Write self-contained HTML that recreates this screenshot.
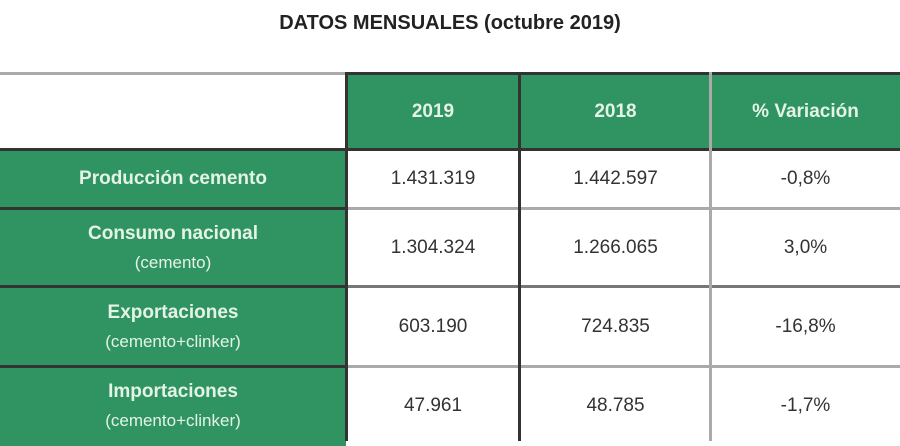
<!DOCTYPE html>
<html><head><meta charset="utf-8"><style>
body{margin:0;width:900px;height:441px;background:#fff;overflow:hidden;font-family:"Liberation Sans",sans-serif;position:relative}
.c{position:absolute;box-sizing:border-box;display:flex;flex-direction:column;align-items:center;justify-content:center;text-align:center;font-size:19px;color:#333}
.g{background:#2f9462;color:#e4f3e6}
.h{font-weight:bold}
.b{font-weight:bold}
.sub{font-size:17px;margin-top:8px;font-weight:normal}
.hl{position:absolute;height:3px;background:#333}
.vl{position:absolute;width:3px;background:#333}
.gl{position:absolute;height:3px;background:#aaa}
.gv{position:absolute;width:3px;background:#aaa}
</style></head><body>
<div class="c h" style="left:0;top:6px;width:900px;height:34px;font-size:20px;color:#222">DATOS MENSUALES (octubre 2019)</div>

<div class="c" style="left:0;top:74px;width:346px;height:76px"></div>
<div class="c g h" style="left:346px;top:74px;width:174px;height:76px">2019</div>
<div class="c g h" style="left:520px;top:74px;width:191px;height:76px">2018</div>
<div class="c g h" style="left:711px;top:74px;width:189px;height:76px">% Variación</div>

<div class="c g b" style="left:0;top:150px;width:346px;height:58px">Producción cemento</div>
<div class="c" style="left:346px;top:150px;width:174px;height:58px">1.431.319</div>
<div class="c" style="left:520px;top:150px;width:191px;height:58px">1.442.597</div>
<div class="c" style="left:711px;top:150px;width:189px;height:58px">-0,8%</div>

<div class="c g b" style="left:0;top:208px;width:346px;height:79px"><div>Consumo nacional</div><div class="sub">(cemento)</div></div>
<div class="c" style="left:346px;top:208px;width:174px;height:79px">1.304.324</div>
<div class="c" style="left:520px;top:208px;width:191px;height:79px">1.266.065</div>
<div class="c" style="left:711px;top:208px;width:189px;height:79px">3,0%</div>

<div class="c g b" style="left:0;top:287px;width:346px;height:79px"><div>Exportaciones</div><div class="sub">(cemento+clinker)</div></div>
<div class="c" style="left:346px;top:287px;width:174px;height:79px">603.190</div>
<div class="c" style="left:520px;top:287px;width:191px;height:79px">724.835</div>
<div class="c" style="left:711px;top:287px;width:189px;height:79px">-16,8%</div>

<div class="c g b" style="left:0;top:366px;width:346px;height:80px"><div>Importaciones</div><div class="sub">(cemento+clinker)</div></div>
<div class="c" style="left:346px;top:366px;width:174px;height:80px">47.961</div>
<div class="c" style="left:520px;top:366px;width:191px;height:80px">48.785</div>
<div class="c" style="left:711px;top:366px;width:189px;height:80px">-1,7%</div>

<div class="gl" style="left:0;top:72px;width:346px"></div>
<div class="hl" style="left:346px;top:72px;width:554px"></div>
<div class="hl" style="left:0;top:148px;width:900px"></div>
<div class="hl" style="left:0;top:207px;width:346px"></div>
<div class="gl" style="left:346px;top:207px;width:554px"></div>
<div class="hl" style="left:0;top:285px;width:346px"></div>
<div class="gl" style="left:346px;top:285px;width:554px;background:#777"></div>
<div class="hl" style="left:0;top:365px;width:346px"></div>
<div class="gl" style="left:346px;top:365px;width:554px"></div>
<div class="vl" style="left:345px;top:72px;height:369px"></div>
<div class="vl" style="left:518px;top:72px;height:369px"></div>
<div class="gv" style="left:709px;top:72px;height:369px"></div>
</body></html>
